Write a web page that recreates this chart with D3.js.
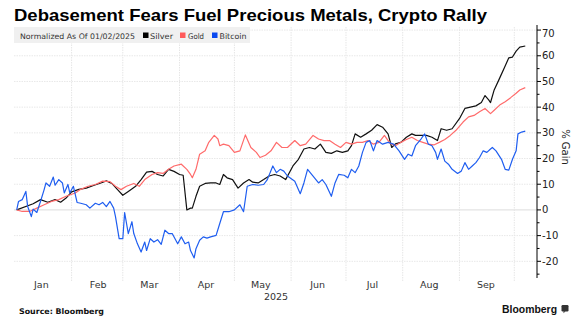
<!DOCTYPE html>
<html><head><meta charset="utf-8">
<script src="https://cdn.jsdelivr.net/npm/d3@7"></script>
<style>
html,body{margin:0;padding:0;background:#fff;}
svg{display:block;}
</style></head>
<body>
<svg id="chart" width="582" height="323"></svg>
<script>
const title = "Debasement Fears Fuel Precious Metals, Crypto Rally";
const legendNote = "Normalized As Of 01/02/2025";
const seriesNames = ["Silver", "Gold", "Bitcoin"];
const seriesColors = ["#111111", "#ff6b6b", "#1f5ef0"];
const legendColors = ["#000000", "#ff5a5a", "#0a49f0"];
const monthLabels = ["Jan","Feb","Mar","Apr","May","Jun","Jul","Aug","Sep"];
const yTicks = [-20,-10,0,10,20,30,40,50,60,70];

const silver = [
["2025-01-02",0],["2025-01-11",2.4],["2025-01-15",4],["2025-01-19",3],["2025-01-23",4],["2025-01-26",3],["2025-01-29",4.6],
["2025-02-01",7],["2025-02-05",8],["2025-02-09",8.5],["2025-02-13",9.5],["2025-02-17",10.5],["2025-02-20",11.3],["2025-02-23",10.3],["2025-02-26",8],
["2025-03-01",5.7],["2025-03-04",7.2],["2025-03-08",9.2],["2025-03-11",11.8],["2025-03-14",14.7],["2025-03-17",15],["2025-03-20",13.8],["2025-03-23",13.2],["2025-03-26",15.8],["2025-03-29",15],
["2025-04-01",13.8],["2025-04-03",13.5],["2025-04-05",0],["2025-04-07",0.7],["2025-04-08",0.7],["2025-04-10",5.3],["2025-04-12",9.2],["2025-04-15",10.3],["2025-04-18",10.5],["2025-04-21",10.5],["2025-04-23",9.9],["2025-04-25",13.8],["2025-04-27",12.5],["2025-04-30",11.8],
["2025-05-03",8.5],["2025-05-06",10.5],["2025-05-09",11.8],["2025-05-11",10.8],["2025-05-14",10.5],["2025-05-17",11.8],["2025-05-20",13.2],["2025-05-23",13.8],["2025-05-26",13.2],["2025-05-29",11.8],
["2025-06-02",17.1],["2025-06-05",19.7],["2025-06-08",23.7],["2025-06-11",24.3],["2025-06-14",23.7],["2025-06-17",25.6],["2025-06-20",22.4],["2025-06-23",22],["2025-06-26",23],["2025-06-29",22.4],
["2025-07-02",23],["2025-07-04",25],["2025-07-06",29.6],["2025-07-09",28.3],["2025-07-12",29.6],["2025-07-15",31],["2025-07-18",33.2],["2025-07-21",32.2],["2025-07-24",29.6],["2025-07-26",24.3],["2025-07-28",25.7],["2025-07-31",26.3],
["2025-08-03",28.3],["2025-08-06",29.6],["2025-08-08",29],["2025-08-11",29],["2025-08-14",29],["2025-08-17",28.3],["2025-08-20",27],["2025-08-22",31.6],["2025-08-25",31],["2025-08-28",31.6],
["2025-09-01",35.5],["2025-09-04",39.5],["2025-09-07",40],["2025-09-10",40.5],["2025-09-13",41.8],["2025-09-15",44.5],["2025-09-17",42.8],["2025-09-18",41.8],["2025-09-20",46.7],["2025-09-23",51.3],["2025-09-26",56],["2025-09-28",59.2],["2025-09-30",59.5],
["2025-10-02",61.8],["2025-10-04",63.4],["2025-10-07",63.8]
];

const gold = [
["2025-01-02",0],["2025-01-05",-0.6],["2025-01-09",-0.6],["2025-01-13",0.7],["2025-01-17",2],["2025-01-21",3.3],["2025-01-25",4],["2025-01-29",5.3],
["2025-02-03",6.6],["2025-02-06",8],["2025-02-10",9.2],["2025-02-14",9.9],["2025-02-18",11.2],["2025-02-22",11],["2025-02-25",9.2],["2025-02-28",7.9],
["2025-03-03",9.2],["2025-03-07",10.3],["2025-03-10",9.2],["2025-03-13",11.8],["2025-03-17",13.8],["2025-03-20",14.5],["2025-03-23",14.2],["2025-03-26",15.8],["2025-03-29",17.1],
["2025-04-02",17.8],["2025-04-05",15.8],["2025-04-07",13.8],["2025-04-08",12.5],["2025-04-10",15.8],["2025-04-12",21.7],["2025-04-15",23],["2025-04-17",26.3],["2025-04-20",29],["2025-04-22",27.6],["2025-04-23",25],["2025-04-25",25.6],["2025-04-28",25],
["2025-05-01",22.4],["2025-05-04",23],["2025-05-07",29.2],["2025-05-10",24.3],["2025-05-13",22.4],["2025-05-15",20.4],["2025-05-18",21.3],["2025-05-21",23],["2025-05-24",26.3],["2025-05-27",24.3],["2025-05-30",24.3],
["2025-06-03",27],["2025-06-06",25],["2025-06-09",25.6],["2025-06-13",29],["2025-06-16",27.6],["2025-06-19",27],["2025-06-22",27],["2025-06-25",25.6],["2025-06-28",24.3],
["2025-07-01",26.3],["2025-07-04",25.6],["2025-07-07",26.3],["2025-07-10",26.3],["2025-07-13",27],["2025-07-16",25.6],["2025-07-19",26.3],["2025-07-22",29],["2025-07-25",26],["2025-07-28",25],["2025-07-31",26.3],
["2025-08-03",27.4],["2025-08-06",28.3],["2025-08-09",27],["2025-08-12",26.3],["2025-08-15",25.6],["2025-08-18",25.3],["2025-08-21",26.3],["2025-08-24",27.4],["2025-08-27",29],["2025-08-30",30.9],
["2025-09-03",34.2],["2025-09-06",36.2],["2025-09-09",36.8],["2025-09-12",38.2],["2025-09-15",39.5],["2025-09-18",37.5],["2025-09-20",38.8],["2025-09-23",40.8],["2025-09-26",42.1],["2025-09-29",43.7],
["2025-10-02",45.4],["2025-10-04",46.7],["2025-10-07",47.6]
];

const bitcoin = [
["2025-01-02",0],["2025-01-03",3.3],["2025-01-05",4],["2025-01-07",7.2],["2025-01-08",1.3],["2025-01-10",-2.6],["2025-01-11",0.3],["2025-01-13",-1],["2025-01-15",3.3],["2025-01-17",7.9],["2025-01-18",10.5],["2025-01-20",9.2],["2025-01-22",12.8],["2025-01-23",9.6],["2025-01-25",11.8],["2025-01-27",10.5],["2025-01-28",6.6],["2025-01-30",9.9],["2025-01-31",6.6],
["2025-02-02",9.2],["2025-02-04",2.9],["2025-02-06",2.6],["2025-02-09",2],["2025-02-11",0.7],["2025-02-14",2.6],["2025-02-16",2],["2025-02-18",2.9],["2025-02-20",1.3],["2025-02-22",3.3],["2025-02-24",0.7],["2025-02-25",-2.6],["2025-02-27",-11.2],
["2025-03-01",-11.2],["2025-03-02",-1],["2025-03-04",-9.2],["2025-03-06",-4.6],["2025-03-07",-9.2],["2025-03-09",-13.2],["2025-03-11",-16.4],["2025-03-13",-12.5],["2025-03-14",-15.8],["2025-03-16",-11.2],["2025-03-18",-12.5],["2025-03-20",-11.6],["2025-03-22",-13.4],["2025-03-24",-7.9],["2025-03-26",-9.2],["2025-03-28",-9.2],["2025-03-31",-13.2],
["2025-04-02",-10.5],["2025-04-04",-13.2],["2025-04-06",-12.5],["2025-04-07",-15.8],["2025-04-09",-18.7],["2025-04-10",-15.1],["2025-04-12",-11.8],["2025-04-14",-10.5],["2025-04-16",-11],["2025-04-18",-10.5],["2025-04-21",-9.9],["2025-04-23",-5.3],["2025-04-25",-0.7],["2025-04-28",-0.7],
["2025-05-01",0],["2025-05-04",2],["2025-05-06",-0.7],["2025-05-08",9.2],["2025-05-11",9.9],["2025-05-14",9.6],["2025-05-17",9.9],["2025-05-19",11.8],["2025-05-22",17.1],["2025-05-24",14.5],["2025-05-26",15.8],["2025-05-28",15.1],["2025-05-30",13.2],
["2025-06-03",11.2],["2025-06-06",6.3],["2025-06-08",10.5],["2025-06-10",15.8],["2025-06-13",13.2],["2025-06-16",10.5],["2025-06-18",11.8],["2025-06-20",9.9],["2025-06-23",5.3],["2025-06-25",10.5],["2025-06-27",13.8],["2025-06-30",13.5],
["2025-07-02",12.5],["2025-07-04",15.8],["2025-07-06",14.5],["2025-07-08",17.1],["2025-07-10",22.4],["2025-07-12",26.3],["2025-07-14",27],["2025-07-16",23],["2025-07-18",27],["2025-07-21",25.6],["2025-07-24",26.3],["2025-07-27",25.6],["2025-07-30",23],
["2025-08-02",19.7],["2025-08-04",21.7],["2025-08-06",21],["2025-08-08",25],["2025-08-11",27.6],["2025-08-13",29.6],["2025-08-15",25.6],["2025-08-17",25],["2025-08-19",22.4],["2025-08-20",19.7],["2025-08-22",23.7],["2025-08-24",19],["2025-08-26",17.8],["2025-08-28",15.8],["2025-08-31",14.2],
["2025-09-02",15.1],["2025-09-04",18.4],["2025-09-06",15.8],["2025-09-08",17.1],["2025-09-10",18.4],["2025-09-12",20.4],["2025-09-14",23],["2025-09-16",22.4],["2025-09-18",23.7],["2025-09-19",24.3],["2025-09-21",23],["2025-09-24",19.7],["2025-09-26",15.8],["2025-09-28",15.5],["2025-09-30",19.7],
["2025-10-02",23],["2025-10-03",29.6],["2025-10-05",30.3],["2025-10-07",30.7]
];

const parse = d3.timeParse("%Y-%m-%d");
const allSeries = [silver, gold, bitcoin].map(s => s.map(([d,v]) => ({date: parse(d), value: v})));

const svg = d3.select("#chart");
const plotL = 14, plotR = 537, plotT = 27, plotB = 278;

const x = d3.scaleTime()
  .domain([parse("2025-01-02"), parse("2025-10-01")])
  .range([16.7, 514.3]);
const y = d3.scaleLinear().domain([-26.5, 71.2]).range([plotB, plotT]);

// title
svg.append("text").attr("x", 14).attr("y", 21)
  .attr("font-family", "Liberation Sans, Arial, sans-serif")
  .attr("font-weight", "bold").attr("font-size", 16.5).attr("fill", "#000")
  .attr("textLength", 473).attr("lengthAdjust", "spacingAndGlyphs")
  .text(title);

// gridlines horizontal
svg.append("g").selectAll("line").data(yTicks).join("line")
  .attr("x1", plotL).attr("x2", plotR)
  .attr("y1", d => y(d)).attr("y2", d => y(d))
  .attr("stroke", d => d === 0 ? "#dcdcdc" : "#e8e8e8")
  .attr("stroke-width", 1)
  .attr("stroke-dasharray", d => d === 0 ? null : "1.5,1");

// vertical month gridlines
const monthStarts = d3.timeMonth.range(parse("2025-02-01"), parse("2025-10-02"));
svg.append("g").selectAll("line").data(monthStarts).join("line")
  .attr("x1", d => x(d)).attr("x2", d => x(d))
  .attr("y1", plotT).attr("y2", 281)
  .attr("stroke", "#e6e6e6").attr("stroke-dasharray", "1.5,1");

// legend box
const lg = svg.append("g");
lg.append("rect").attr("x", 14).attr("y", 27).attr("width", 236).attr("height", 16).attr("fill", "#f0f0f0");
const lgFont = "DejaVu Sans, sans-serif";
lg.append("text").attr("x", 20).attr("y", 38.5).attr("font-family", lgFont).attr("font-size", 7.6)
  .attr("fill", "#333").attr("textLength", 115).attr("lengthAdjust", "spacingAndGlyphs").text(legendNote);
const legItems = [{sx:143, tx:150, w:23},{sx:180, tx:188, w:16},{sx:212, tx:219.5, w:27}];
legItems.forEach((it, i) => {
  lg.append("rect").attr("x", it.sx).attr("y", 32.5).attr("width", 5.5).attr("height", 5.5).attr("fill", legendColors[i]);
  lg.append("text").attr("x", it.tx).attr("y", 38.5).attr("font-family", lgFont).attr("font-size", 7.8)
    .attr("fill", "#333").attr("textLength", it.w).attr("lengthAdjust", "spacingAndGlyphs").text(seriesNames[i]);
});

// lines
const line = d3.line().x(d => x(d.date)).y(d => y(d.value)).curve(d3.curveLinear);
const drawOrder = [0, 1, 2];
drawOrder.forEach(i => {
  svg.append("path").datum(allSeries[i]).attr("d", line)
    .attr("fill", "none").attr("stroke", seriesColors[i]).attr("stroke-width", 1.2)
    .attr("stroke-linejoin", "round");
});

// right axis
const axisFont = "DejaVu Sans, sans-serif";
const ax = svg.append("g").attr("transform", `translate(${plotR},0)`);
ax.append("line").attr("x1", 0).attr("x2", 0).attr("y1", plotT - 2).attr("y2", plotB).attr("stroke", "#000").attr("stroke-width", 1);
const minor = d3.range(-25, 71, 5).filter(v => v % 10 !== 0);
ax.selectAll(".mt").data(minor).join("line").attr("x1", 0).attr("x2", 2.5)
  .attr("y1", d => y(d)).attr("y2", d => y(d)).attr("stroke", "#000");
ax.selectAll(".Mt").data(yTicks).join("line").attr("x1", 0).attr("x2", 4)
  .attr("y1", d => y(d)).attr("y2", d => y(d)).attr("stroke", "#000");
ax.selectAll("text").data(yTicks).join("text")
  .attr("x", 5).attr("y", d => Math.max(y(d), 33)).attr("dy", "0.35em")
  .attr("font-family", axisFont).attr("font-size", 10).attr("fill", "#222")
  .text(d => d);

// y title
svg.append("text").attr("transform", "translate(562,147) rotate(90)")
  .attr("text-anchor", "middle").attr("font-family", axisFont).attr("font-size", 10).attr("fill", "#222")
  .text("% Gain");

// month labels
const monthMid = monthLabels.map((m, i) => new Date(2025, i, 15, 12));
svg.append("g").selectAll("text").data(monthLabels).join("text")
  .attr("x", (d, i) => x(monthMid[i])).attr("y", 288)
  .attr("text-anchor", "middle").attr("font-family", axisFont).attr("font-size", 9.5).attr("fill", "#333")
  .text(d => d);
svg.append("text").attr("x", 276).attr("y", 300).attr("text-anchor", "middle")
  .attr("font-family", axisFont).attr("font-size", 9.5).attr("fill", "#333").text("2025");

// source
svg.append("text").attr("x", 19).attr("y", 313.5)
  .attr("font-family", "DejaVu Sans, sans-serif").attr("font-weight", "bold").attr("font-size", 7.8).attr("fill", "#111")
  .attr("textLength", 85).attr("lengthAdjust", "spacingAndGlyphs")
  .text("Source: Bloomberg");

// bloomberg logo
svg.append("text").attr("x", 502).attr("y", 312.5)
  .attr("font-family", "Liberation Sans, Arial, sans-serif").attr("font-weight", "bold").attr("font-size", 10.5).attr("fill", "#111")
  .attr("textLength", 55).attr("lengthAdjust", "spacingAndGlyphs")
  .text("Bloomberg");
svg.append("rect").attr("x", 561.5).attr("y", 305).attr("width", 7).attr("height", 6.5).attr("rx", 1.2).attr("fill", "#333");
svg.append("path").attr("d", "M563.5,311.3 L563.5,313.3 L565.5,311.3 Z").attr("fill", "#333");
</script>
</body></html>
